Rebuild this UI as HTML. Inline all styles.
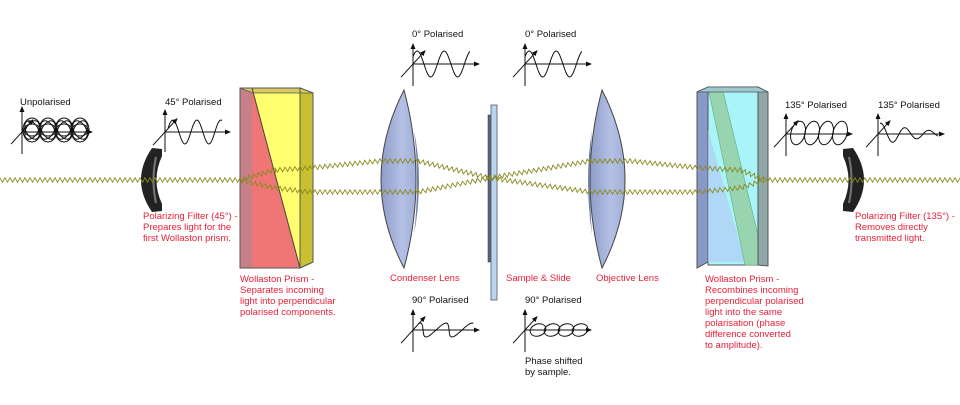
<!DOCTYPE html>
<html><head><meta charset="utf-8"><style>
html,body{margin:0;padding:0;background:#fff;width:960px;height:405px;overflow:hidden}
svg text{font-family:"Liberation Sans",Arial,sans-serif;font-size:9.5px}
.r{fill:#e8203a}.k{fill:#111}
</style></head><body>
<svg id="s" width="960" height="405" viewBox="0 0 960 405" xmlns="http://www.w3.org/2000/svg">
<defs>
<marker id="ar" markerWidth="6" markerHeight="6" refX="5" refY="3" orient="auto" markerUnits="userSpaceOnUse"><path d="M0,0.5 L6,3 L0,5.5Z" fill="#111"/></marker>
<linearGradient id="lg" x1="0" x2="1"><stop offset="0" stop-color="#8e9cc8"/><stop offset="0.6" stop-color="#b4c0e4"/><stop offset="1" stop-color="#a0aed8"/></linearGradient>
</defs>
<!-- prism 1 -->
<polygon points="240,88 300,88 313,93 313,262 300,268 240,268" fill="#f07575" stroke="#555" stroke-width="1"/>
<polygon points="252,88 300,88 300,268" fill="#ffff70"/>
<polygon points="300,88 313,93 313,262 300,268" fill="#c8c030" stroke="#555"/>
<polygon points="240,88 252,88 252,268 240,268" fill="#c88088"/>
<polygon points="240,88 300,88 313,93 253,93" fill="#d8c860" stroke="#555" stroke-width=".8"/>
<line x1="252" y1="88" x2="300" y2="268" stroke="#444" stroke-width="1"/>
<rect x="240" y="88" width="60" height="180" fill="none" stroke="#555"/>
<!-- prism 2 -->
<polygon points="697,92 708,87 708,262 697,268" fill="#8898c8" stroke="#555"/>
<rect x="708" y="87" width="50" height="178" fill="#a8f4f8" stroke="#555"/>
<polygon points="708,87 708,262 745,262 708,130" fill="#b0ccf4" opacity=".7"/>
<polygon points="708,87 722,87 758,235 758,265 745,265" fill="#98d4b0" stroke="#6a8" stroke-width=".6"/>
<polygon points="758,87 768,92 768,266 758,265" fill="#90a8a8" stroke="#555"/>
<polygon points="697,92 708,87 758,87 768,92" fill="#9cc8d0" stroke="#555" stroke-width=".8"/>
<!-- lenses -->
<path d="M404,90 Q358,180 404,268 Q428,180 404,90Z" fill="url(#lg)" stroke="#444" stroke-width="1"/>
<path d="M414,130 Q424,180 414,235 Q420,180 414,130Z" fill="#7080a8"/>
<path d="M602,90 Q578,180 602,268 Q648,180 602,90Z" fill="url(#lg)" stroke="#444" stroke-width="1"/>
<path d="M592,130 Q584,180 592,235 Q588,180 592,130Z" fill="#7080a8"/>
<!-- slide -->
<rect x="488" y="115" width="3" height="147" fill="#5a6680" stroke="#333" stroke-width=".5"/>
<rect x="491" y="105" width="6" height="195" fill="#b8d4ee" stroke="#556" stroke-width=".8"/>
<!-- filters -->
<path d="M152,148 L162,149 L162,156 Q151,180 162,204 L162,211 L152,212 Q130,180 152,148Z" fill="#222"/>
<path d="M155,157 Q150,180 155,203 L157,203 Q152,180 157,157Z" fill="#777"/>
<path d="M853,148 L843,149 L843,156 Q854,180 843,204 L843,211 L853,212 Q875,180 853,148Z" fill="#222"/>
<path d="M850,157 Q855,180 850,203 L848,203 Q853,180 848,157Z" fill="#777"/>
<g id="waves"></g>
<g id="diag" stroke="#111" fill="none" stroke-width="1"></g>
<!-- labels -->
<text x="20" y="105" class="k">Unpolarised</text>
<text x="165" y="105" class="k">45° Polarised</text>
<text x="412" y="37" class="k">0° Polarised</text>
<text x="525" y="37" class="k">0° Polarised</text>
<text x="412" y="303" class="k">90° Polarised</text>
<text x="525" y="303" class="k">90° Polarised</text>
<text x="785" y="108" class="k">135° Polarised</text>
<text x="878" y="108" class="k">135° Polarised</text>
<text x="525" y="364" class="k">Phase shifted</text>
<text x="525" y="375" class="k">by sample.</text>
<text class="r"><tspan x="143" y="219">Polarizing Filter (45°) -</tspan><tspan x="143" y="230">Prepares light for the</tspan><tspan x="143" y="241">first Wollaston prism.</tspan></text>
<text class="r"><tspan x="240" y="282">Wollaston Prism -</tspan><tspan x="240" y="293">Separates incoming</tspan><tspan x="240" y="304">light into perpendicular</tspan><tspan x="240" y="315">polarised components.</tspan></text>
<text x="390" y="281" class="r">Condenser Lens</text>
<text x="506" y="281" class="r">Sample &amp; Slide</text>
<text x="596" y="281" class="r">Objective Lens</text>
<text class="r"><tspan x="705" y="282">Wollaston Prism -</tspan><tspan x="705" y="293">Recombines incoming</tspan><tspan x="705" y="304">perpendicular polarised</tspan><tspan x="705" y="315">light into the same</tspan><tspan x="705" y="326">polarisation (phase</tspan><tspan x="705" y="337">difference converted</tspan><tspan x="705" y="348">to amplitude).</tspan></text>
<text class="r"><tspan x="855" y="219">Polarizing Filter (135°) -</tspan><tspan x="855" y="230">Removes directly</tspan><tspan x="855" y="241">transmitted light.</tspan></text>
</svg>
<script>
var NS="http://www.w3.org/2000/svg";
function el(p,t,a){var e=document.createElementNS(NS,t);for(var k in a)e.setAttribute(k,a[k]);p.appendChild(e);return e;}
var W=document.getElementById("waves"),D=document.getElementById("diag");
function zig(pts){var d="";for(var i=0;i<pts.length-1;i++){var a=pts[i],b=pts[i+1];var dx=b[0]-a[0],dy=b[1]-a[1],L=Math.hypot(dx,dy),ux=dx/L,uy=dy/L,nx=-uy,ny=ux;var n=Math.round(L/2.5);for(var j=0;j<=n;j++){var t=j*L/n,s=(j%2?2.2:-2.2);if(j==0&&i==0)d+="M";else d+="L";d+=(a[0]+ux*t+nx*s).toFixed(1)+","+(a[1]+uy*t+ny*s).toFixed(1)+" ";}}
el(W,"path",{d:d,fill:"none",stroke:"#8a8a20","stroke-width":"0.9"});}
zig([[0,180],[240,180]]);
zig([[765,180],[960,180]]);
zig([[240,180],[275,170],[310,168],[380,161],[418,161],[490,178],[590,161],[630,161],[700,168],[740,170],[765,180]]);
zig([[240,180],[275,188],[310,192],[380,192],[418,192],[490,178],[590,192],[630,192],[700,192],[740,188],[765,180]]);
function axes(x,y,vt,vb,hr,dl){el(D,"line",{x1:x,y1:y+vb,x2:x,y2:y-vt,"marker-end":"url(#ar)"});el(D,"line",{x1:x,y1:y,x2:x+hr,y2:y,"marker-end":"url(#ar)"});el(D,"line",{x1:x-dl,y1:y+dl*1.1,x2:x+dl,y2:y-dl*1.1,"marker-end":"url(#ar)"});}
function sine(x,y,len,per,amp,ph,sk,decay){var d="";for(var i=0;i<=len;i++){var a=amp*(decay?Math.exp(-i/decay):1);var v=Math.sin(i/per*2*Math.PI+ph)*a;var px=x+i+v*sk,py=y-v;d+=(i?"L":"M")+px.toFixed(1)+","+py.toFixed(1);}el(D,"path",{d:d});}
// unpolarised
axes(22,132,25,22,70,11);
for(var k=0;k<4;k++){var cx=32+k*16;el(D,"ellipse",{cx:cx,cy:130,rx:9,ry:12});el(D,"ellipse",{cx:cx,cy:130,rx:8,ry:6});el(D,"ellipse",{cx:cx,cy:130,rx:6,ry:10,transform:"rotate(30 "+cx+" 130)"});el(D,"ellipse",{cx:cx,cy:130,rx:6,ry:10,transform:"rotate(-30 "+cx+" 130)"});}
// 45
axes(165,132,22,20,65,12);sine(168,132,54,24,12,0.3,0,0);
// 0
axes(413,64,20,22,66,12);sine(413,64,57,27,13,0.6,0,0);
axes(525,64,20,22,66,12);sine(525,64,57,27,13,0.6,0,0);
// 90
axes(413,330,20,22,66,12);sine(415,330,55,26,7,1.2,0.5,0);
axes(525,330,20,22,66,12);for(var q=0;q<4;q++)el(D,"ellipse",{cx:538+q*14,cy:330,rx:8,ry:6,transform:"rotate(-20 "+(538+q*14)+" 330)"});
// 135
axes(786,134,20,22,66,12);for(var q=0;q<4;q++)el(D,"ellipse",{cx:798+q*14,cy:133,rx:7,ry:12,transform:"rotate(15 "+(798+q*14)+" 133)"});
axes(878,134,20,22,66,12);sine(880,134,58,24,11,1.3,0,45);
</script>
</body></html>
